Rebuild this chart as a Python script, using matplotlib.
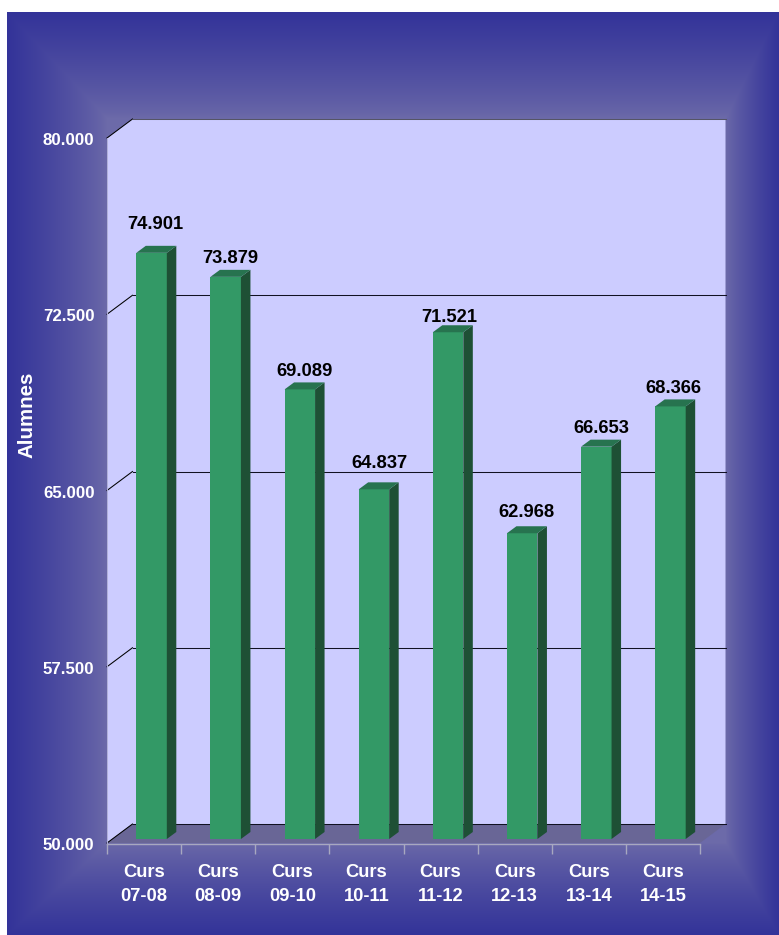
import matplotlib
matplotlib.use("Agg")
import matplotlib.pyplot as plt
from matplotlib.transforms import ScaledTranslation
import numpy as np

plt.rcParams['font.family'] = ['Liberation Sans', 'DejaVu Sans']
plt.rcParams['font.weight'] = 'bold'

cursos = ['07-08', '08-09', '09-10', '10-11', '11-12', '12-13', '13-14', '14-15']
alumnes = [74901, 73879, 69089, 64837, 71521, 62968, 66653, 68366]
y_ticks = [50000, 57500, 65000, 72500, 80000]
y_labels = ['50.000', '57.500', '65.000', '72.500', '80.000']

W, H = 779, 935
fig = plt.figure(figsize=(W / 100, H / 100), dpi=100, facecolor='white')

# background: rectangular gradient around the plot box
bg = fig.add_axes([0, 0, 1, 1], zorder=0)
xx, yy = np.meshgrid(np.arange(W) + 0.5, np.arange(H) + 0.5)
t = np.maximum.reduce([(107 - xx) / 100, (xx - 726) / 53, (118 - yy) / 106, (yy - 843) / 92])
t = np.clip(t, 0, 1)[..., None] ** 0.8
dark = np.array([0x33, 0x33, 0x99]) / 255
light = np.array([0x6c, 0x6a, 0xa9]) / 255
img = dark * t + light * (1 - t)
img[:12, :] = 1
img[:, :7] = 1
bg.imshow(img, aspect='auto', interpolation='nearest', extent=(0, W, H, 0))
bg.axis('off')

ax = fig.add_axes([107 / W, (H - 843) / H, 593 / W, 705 / H], zorder=1)
ax.set_xlim(0, len(cursos))
ax.set_ylim(50000, 80000)
ax.patch.set_alpha(0)

# pixels to data units
px = len(cursos) / 593
py = 30000 / 705
depth_x, depth_y = 25.5 * px, 19 * py
x0, x1 = ax.get_xlim()
y0, y1 = ax.get_ylim()

# walls and floor
ax.fill([x0, x0 + depth_x, x1 + depth_x, x1 + depth_x, x0 + depth_x, x0],
        [y1, y1 + depth_y, y1 + depth_y, y0 + depth_y, y0 + depth_y, y0],
        color='#ccccff', lw=0, clip_on=False, zorder=1)
ax.fill([x0, x0 + depth_x, x1 + depth_x, x1],
        [y0, y0 + depth_y, y0 + depth_y, y0],
        color='#696696', lw=0, clip_on=False, zorder=1)

for v in y_ticks:
    c = '#555566' if v == y_ticks[-1] else '#111122'
    ax.plot([x0, x0 + depth_x], [v, v + depth_y], color='black', lw=0.75, clip_on=False, zorder=2)
    ax.plot([x0 + depth_x, x1 + depth_x], [v + depth_y, v + depth_y], color=c, lw=0.75,
            clip_on=False, zorder=2)

# bars
bar_w = 30.5 * px
shift_x, shift_y = 7.5 * px, 4 * py
side_x, side_y = 9.5 * px, 7 * py
pos = np.arange(len(cursos)) + 0.5
rects = ax.bar(pos + shift_x, np.array(alumnes) - y0 + py, bar_w, bottom=y0 + shift_y,
               color='#339966', lw=0, zorder=3, clip_on=False)
for r in rects:
    l, b = r.get_x(), r.get_y()
    w, h = r.get_width(), r.get_height()
    ax.fill([l + w, l + w + side_x, l + w + side_x, l + w],
            [b, b + side_y, b + h + side_y, b + h], color='#1e5035', lw=0, zorder=3, clip_on=False)
    ax.fill([l, l + side_x, l + w + side_x, l + w],
            [b + h, b + h + side_y, b + h + side_y, b + h], color='#27734f', lw=0, zorder=3, clip_on=False)

# labels sit at uneven heights in the original
lift = [28, 18, 18, 26, 15, 21, 18, 18]
nudge = [3.5, 4.5, 5, 6, 1.5, 4.5, 5, 2.5]
for r, v, dy, dx in zip(rects, alumnes, lift, nudge):
    ax.annotate('{:,}'.format(v).replace(',', '.'),
                xy=(r.get_x() + r.get_width() / 2, r.get_y() + r.get_height()),
                xytext=(dx * 0.72, dy * 0.72), textcoords='offset points',
                ha='center', va='center', fontsize=13.2, color='black', zorder=5,
                annotation_clip=False)

# axes
for s in ['top', 'right']:
    ax.spines[s].set_visible(False)
ax.spines['left'].set_color('#b0b0d8')
ax.spines['left'].set_linewidth(0.7)
ax.spines['left'].set_zorder(2)
ax.spines['bottom'].set_color('#a8a8c0')
ax.spines['bottom'].set_linewidth(1.0)
ax.spines['bottom'].set_position(('outward', 1))
ax.spines['left'].set_bounds(y0, y1)

ax.set_yticks(y_ticks, y_labels)
ax.tick_params(axis='y', length=0, pad=9, labelsize=12.2, labelcolor='white')
down = ScaledTranslation(0, -0.8 / 72, fig.dpi_scale_trans)
for lab in ax.get_yticklabels():
    lab.set_transform(lab.get_transform() + down)
ax.set_xticks(np.arange(len(cursos) + 1))
ax.set_xticklabels([])
ax.tick_params(axis='x', which='major', length=7.2, width=1.0, color='#a8a8c0')
ax.set_xticks(pos, ['Curs\n' + c for c in cursos], minor=True)
ax.tick_params(axis='x', which='minor', length=0, pad=14, labelsize=13.2, labelcolor='white')
for lab in ax.get_xticklabels(minor=True):
    lab.set_linespacing(1.55)

ax.set_ylabel('Alumnes', fontsize=14.8, color='white', weight='bold')
ax.yaxis.set_label_coords((36 - 107) / 593, (843 - 415) / 705)

fig.savefig('out.png', dpi=100)
